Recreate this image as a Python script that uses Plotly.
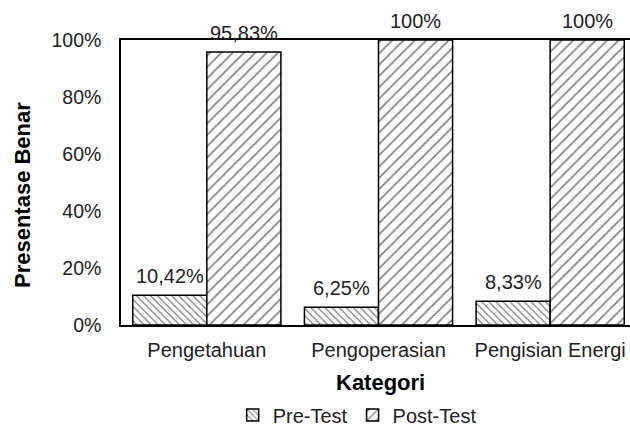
import plotly.graph_objects as go

categories = ["Pengetahuan", "Pengoperasian", "Pengisian Energi"]
pre_test = [10.42, 6.25, 8.33]
post_test = [95.83, 100.0, 100.0]
y_ticks = [0, 20, 40, 60, 80, 100]
y_tick_labels = ["0%", "20%", "40%", "60%", "80%", "100%"]

FONT = "Liberation Sans, Arial, sans-serif"
TXT = "#222222"
bargap = 0.137

def fmt(v):
    s = ("%.2f" % v).rstrip("0").rstrip(".")
    return s.replace(".", ",") + "%"

fig = go.Figure()
fig.add_trace(go.Bar(
    name="Pre-Test", x=categories, y=pre_test,
    marker=dict(color="white", line=dict(color="black", width=1.5),
                pattern=dict(shape="\\", fgcolor="black", bgcolor="white", size=5, solidity=0.25)),
))
fig.add_trace(go.Bar(
    name="Post-Test", x=categories, y=post_test,
    marker=dict(color="white", line=dict(color="black", width=1.5),
                pattern=dict(shape="/", fgcolor="black", bgcolor="white", size=8, solidity=0.2)),
))

half = (1 - bargap) / 4
for i, (a, b) in enumerate(zip(pre_test, post_test)):
    for xv, v in ((i - half, a), (i + half, b)):
        fig.add_annotation(x=xv, y=v, xref="x", yref="y", text=fmt(v), showarrow=False,
                           yanchor="bottom", yshift=6,
                           font=dict(family=FONT, size=20, color=TXT))

# axis titles
fig.add_annotation(x=0.509, y=-0.2035, xref="paper", yref="paper", text="<b>Kategori</b>",
                   showarrow=False, xanchor="center", yanchor="middle",
                   font=dict(family=FONT, size=22, color="black"))
fig.add_annotation(x=-0.1945, y=0.456, xref="paper", yref="paper", text="<b>Presentase Benar</b>",
                   showarrow=False, textangle=-90, xanchor="center", yanchor="middle",
                   font=dict(family=FONT, size=22, color="black"))

fig.update_layout(
    width=630, height=426,
    margin=dict(l=121, r=0, t=40, b=101, autoexpand=False),
    paper_bgcolor="white", plot_bgcolor="white",
    barmode="group", bargap=bargap, bargroupgap=0,
    font=dict(family=FONT, size=20, color=TXT),
    showlegend=True,
    legend=dict(orientation="h", x=0.464, xanchor="center", xref="paper",
                y=0.026, yanchor="middle", yref="container",
                font=dict(family=FONT, size=20, color=TXT), itemwidth=30,
                traceorder="normal"),
)
fig.update_xaxes(
    range=[-0.5, 2.465], showline=True, linecolor="black", linewidth=1.5, mirror=True,
    ticks="", ticklabelstandoff=6, automargin=False,
    tickfont=dict(family=FONT, size=20, color=TXT),
)
fig.update_yaxes(
    range=[0, 100], tickvals=y_ticks, ticktext=y_tick_labels,
    showline=True, linecolor="black", linewidth=1.5, mirror=True, showgrid=False, zeroline=False,
    ticks="", ticklabelstandoff=14, automargin=False,
    tickfont=dict(family=FONT, size=19.5, color=TXT),
)

fig.write_html("out.html", config={"displayModeBar": False},
               post_script="document.body.style.margin='0';document.body.style.overflow='hidden';")
